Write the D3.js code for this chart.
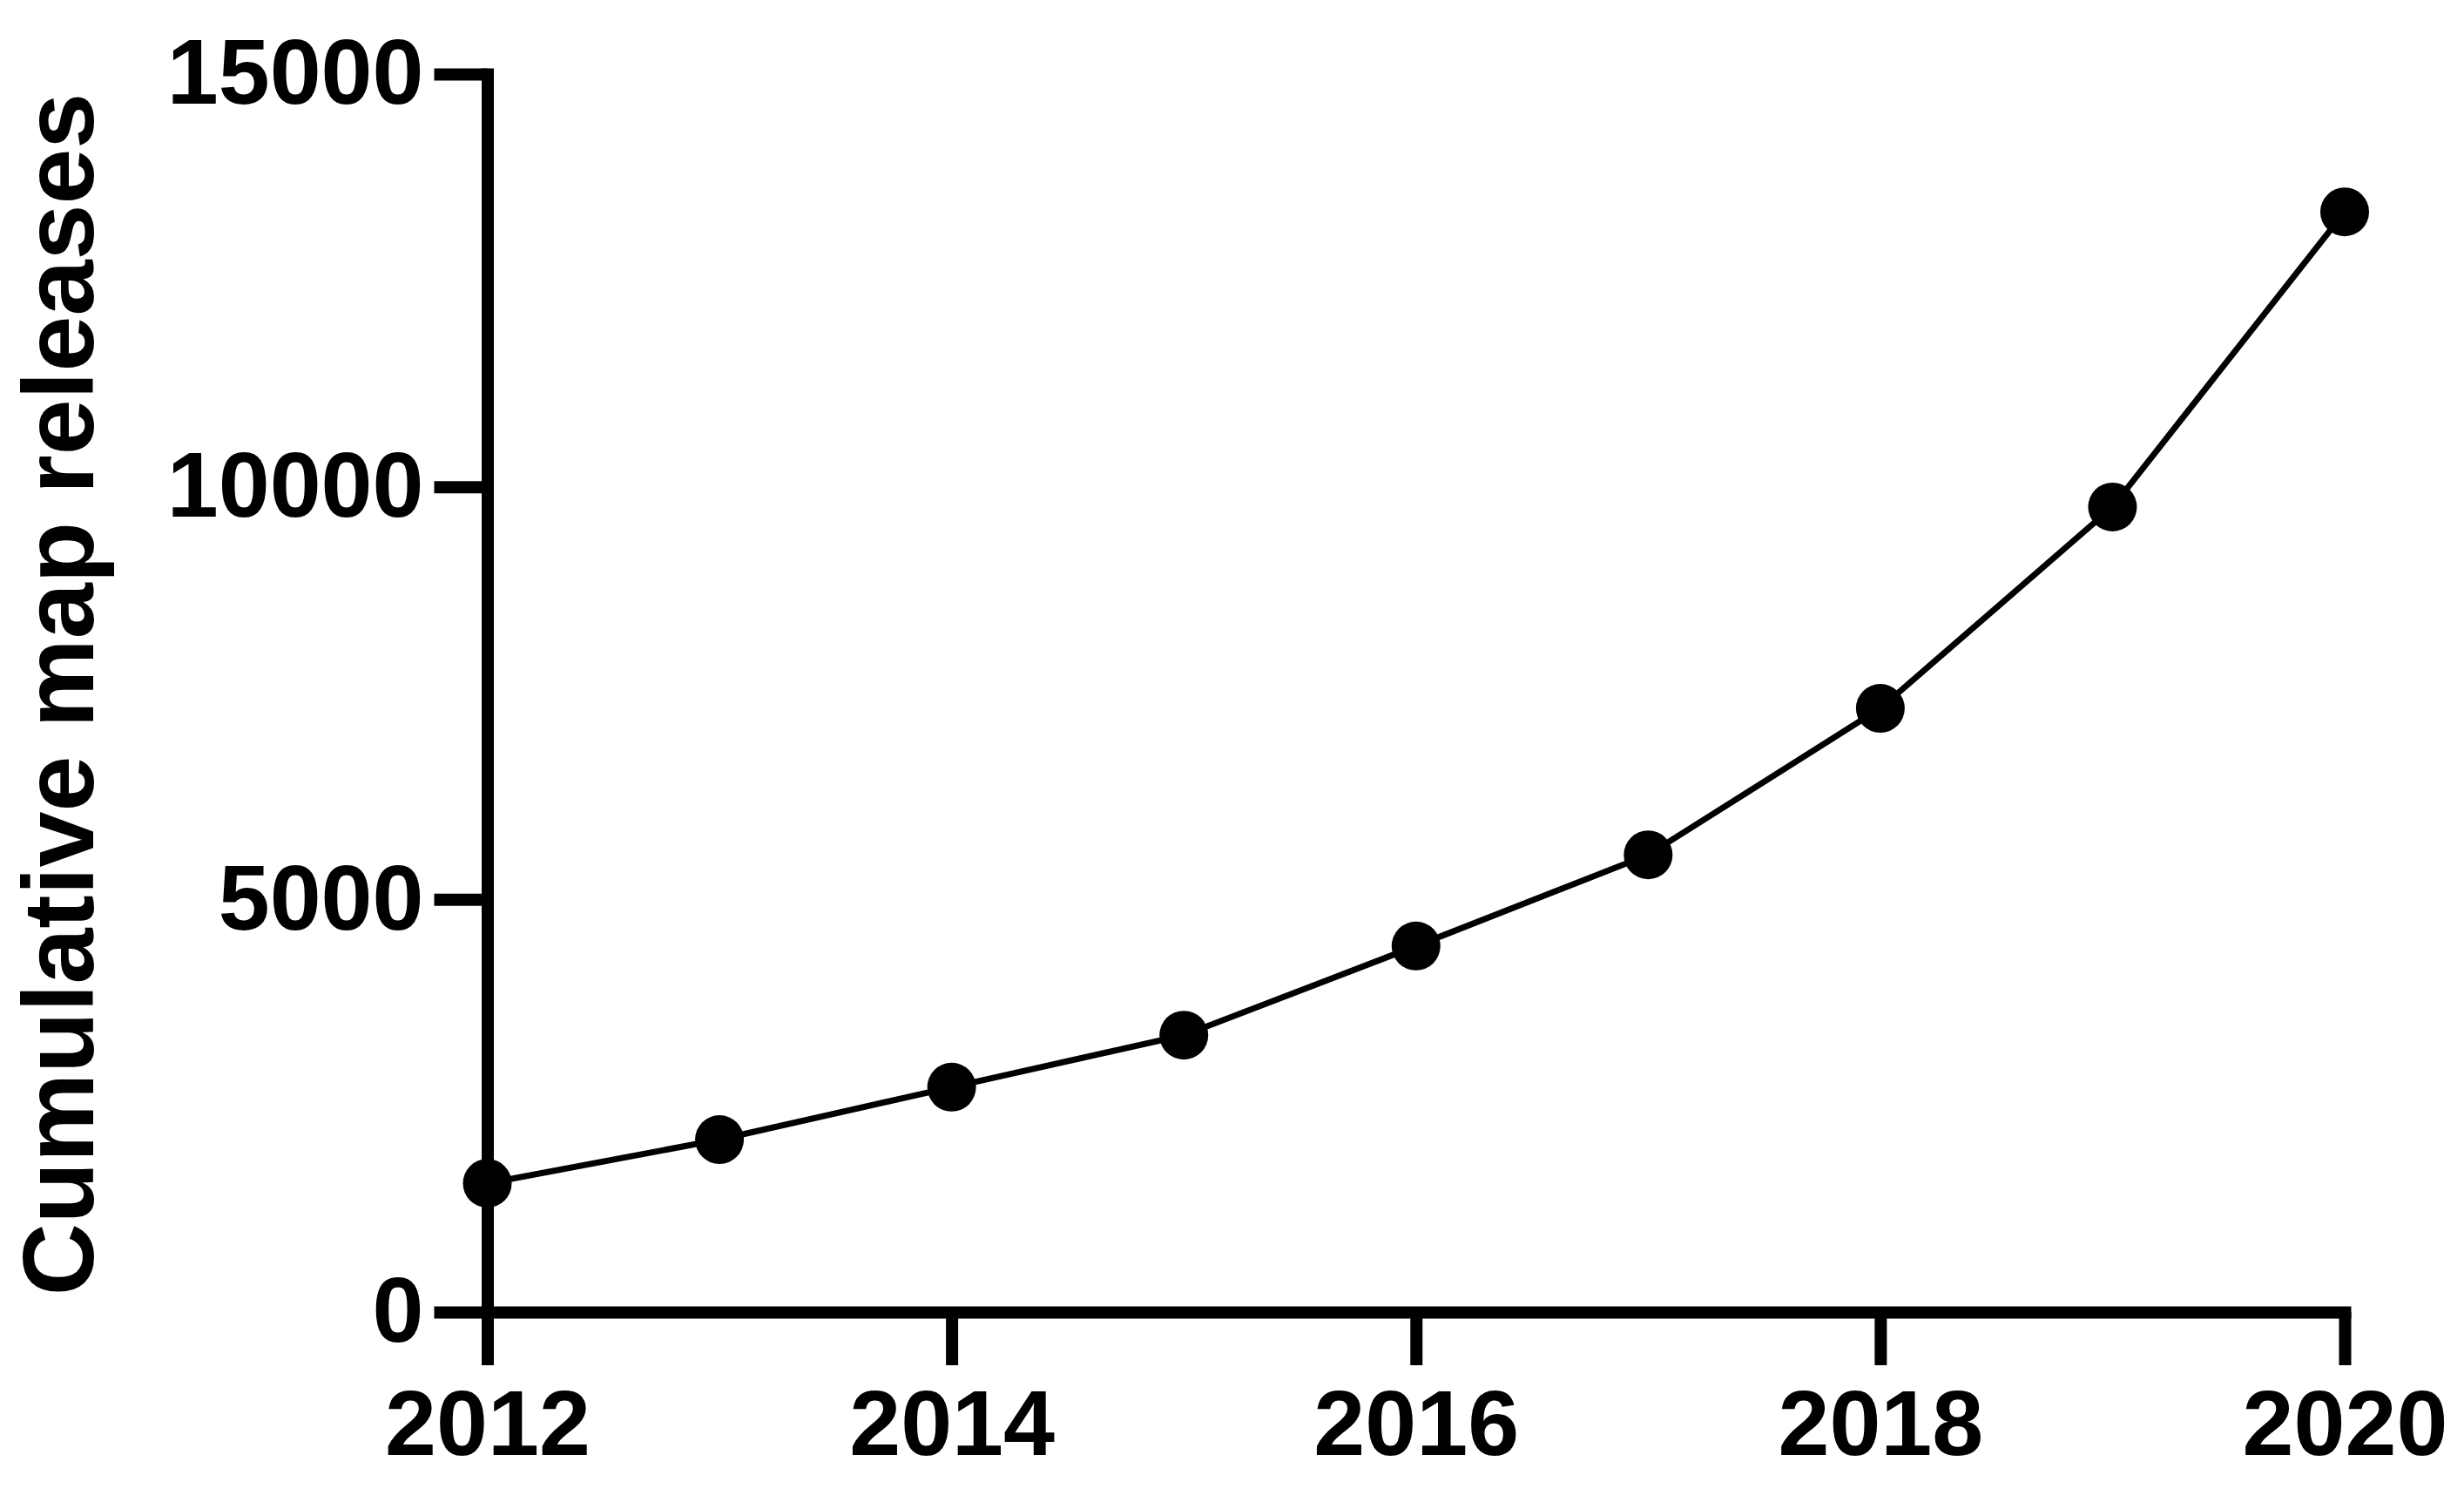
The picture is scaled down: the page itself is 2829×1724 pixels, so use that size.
<!DOCTYPE html>
<meta charset="utf-8">
<style>
  body { margin: 0; background: #fff; }
  svg { display: block; }
  .axis text {
    font-family: "Liberation Sans", Arial, sans-serif;
    font-weight: bold;
    font-size: 106px;
    fill: #000;
  }
  .axis line { stroke: #000; stroke-width: 14; }
  .axis path { stroke: #000; stroke-width: 14; stroke-linecap: square; fill: none; }
  .title {
    font-family: "Liberation Sans", Arial, sans-serif;
    font-weight: bold;
    font-size: 115px;
  }
  .series { fill: none; stroke: #000; stroke-width: 7; }
</style>
<body>
<script src="https://d3js.org/d3.v7.min.js"></script>
<script>

  var years = [2012, 2013, 2014, 2015, 2016, 2017, 2018, 2019, 2020];
  var releases = [1560, 2090, 2725, 3355, 4435, 5540, 7315, 9755, 13330];
  var xTicks = [2012, 2014, 2016, 2018, 2020];
  var yTicks = [0, 5000, 10000, 15000];

  var width = 2829,
    height = 1724;

  var x = d3.scaleLinear().domain([2012, 2020]).range([559.5, 2692]);
  var y = d3.scaleLinear().domain([0, 15000]).range([1506, 85]);

  var svg = d3.select("body").append("svg")
    .attr("width", width)
    .attr("height", height);

  svg.append("g")
    .attr("class", "axis")
    .attr("transform", "translate(0," + y(0) + ")")
    .call(d3.axisBottom(x)
      .tickValues(xTicks)
      .tickFormat(d3.format("d"))
      .tickSizeInner(61)
      .tickSizeOuter(0)
      .tickPadding(28));

  svg.append("g")
    .attr("class", "axis")
    .attr("transform", "translate(" + x(2012) + ",0)")
    .call(d3.axisLeft(y)
      .tickValues(yTicks)
      .tickFormat(d3.format("d"))
      .tickSizeInner(61)
      .tickSizeOuter(0)
      .tickPadding(12));

  var pts = years.map(function (d, i) { return [d, releases[i]]; });

  svg.append("path")
    .datum(pts)
    .attr("class", "series")
    .attr("d", d3.line()
      .x(function (d) { return x(d[0]); })
      .y(function (d) { return y(d[1]); }));

  svg.selectAll("circle.pt")
    .data(pts)
    .enter().append("circle")
    .attr("class", "pt")
    .attr("cx", function (d) { return x(d[0]); })
    .attr("cy", function (d) { return y(d[1]); })
    .attr("r", 28)
    .attr("fill", "#000");

  svg.append("text")
    .attr("class", "title")
    .attr("transform", "translate(107,797) rotate(-90)")
    .attr("text-anchor", "middle")
    .text("Cumulative map releases");

</script>
</body>
